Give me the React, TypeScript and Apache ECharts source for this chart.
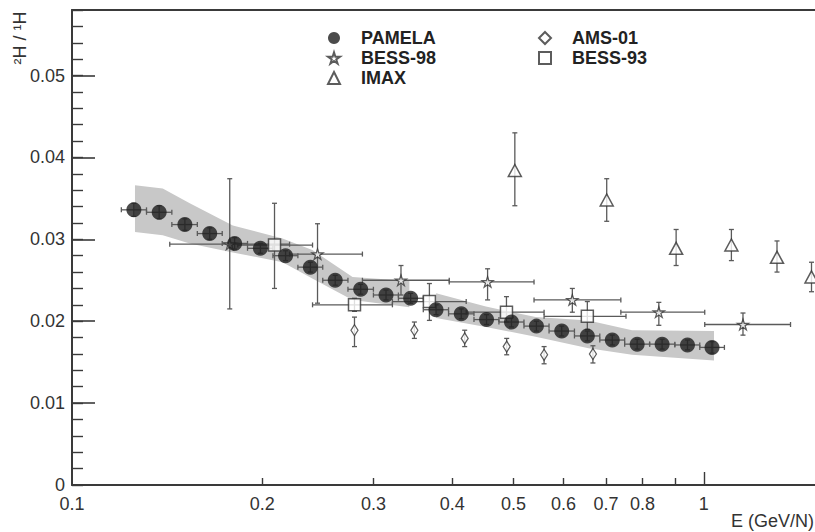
import React, { useEffect, useRef } from "react";
import * as echarts from "echarts";

// ---------- data ----------
const xTickLabels = [0.1, 0.2, 0.3, 0.4, 0.5, 0.6, 0.7, 0.8, 1];
const xMinorTicks = [0.2, 0.3, 0.4, 0.5, 0.6, 0.7, 0.8, 0.9];
const xMajorTicks = [1];
const yTickLabels = [0, 0.01, 0.02, 0.03, 0.04, 0.05];

const pamelaE = [0.1253, 0.1374, 0.1509, 0.1652, 0.1809, 0.1987, 0.2178, 0.2384, 0.261, 0.2864, 0.3141, 0.3436, 0.3769, 0.4132, 0.4531, 0.4962, 0.5434, 0.5959, 0.6542, 0.7165, 0.7845, 0.8592, 0.9424, 1.0306];
const pamelaRatio = [0.0336, 0.0333, 0.0318, 0.0307, 0.0295, 0.0289, 0.028, 0.0266, 0.025, 0.0239, 0.0232, 0.0228, 0.0214, 0.0209, 0.0202, 0.0199, 0.0194, 0.0188, 0.0182, 0.0177, 0.0172, 0.0172, 0.0171, 0.0168];
const pamelaErr = [0.0008, 0.0008, 0.0007, 0.0007, 0.0007, 0.0006, 0.0006, 0.0006, 0.0006, 0.0006, 0.0006, 0.0006, 0.0006, 0.0006, 0.0006, 0.0006, 0.0006, 0.0006, 0.0006, 0.0006, 0.0006, 0.0006, 0.0006, 0.0007];
const pamelaEdges = [0.1197, 0.1312, 0.1439, 0.1579, 0.1729, 0.1896, 0.208, 0.2278, 0.2494, 0.2734, 0.3, 0.3286, 0.3598, 0.3945, 0.4328, 0.474, 0.5193, 0.569, 0.6242, 0.6846, 0.7496, 0.8209, 0.9, 0.9856, 1.0782];

const band1E = [0.1258, 0.1392, 0.1536, 0.1797, 0.2154, 0.2401, 0.278, 0.342];
const band1Hi = [0.0366, 0.0362, 0.0344, 0.0317, 0.0301, 0.0287, 0.0254, 0.0249];
const band1Lo = [0.0309, 0.0305, 0.0295, 0.0284, 0.0272, 0.0252, 0.0226, 0.0217];
const band2E = [0.377, 0.452, 0.5418, 0.6571, 0.77, 1.038];
const band2Hi = [0.0234, 0.0218, 0.0205, 0.0201, 0.0189, 0.0188];
const band2Lo = [0.0204, 0.0193, 0.0181, 0.0167, 0.0159, 0.0152];

const bess98E = [0.1777, 0.2447, 0.3317, 0.4548, 0.6194, 0.849, 1.1537];
const bess98Ratio = [0.0294, 0.0282, 0.025, 0.0248, 0.0226, 0.0211, 0.0196];
const bess98Lo = [0.0215, 0.0222, 0.0232, 0.0226, 0.0211, 0.0195, 0.0183];
const bess98Hi = [0.0374, 0.0319, 0.0268, 0.0264, 0.024, 0.0223, 0.021];
const bess98Edges = [0.1428, 0.221, 0.2882, 0.3955, 0.5387, 0.7392, 1.0036, 1.372];

const bess93E = [0.2092, 0.28, 0.3679, 0.4872, 0.6542];
const bess93Ratio = [0.0293, 0.022, 0.0224, 0.0211, 0.0206];
const bess93Lo = [0.024, 0.0212, 0.0201, 0.0199, 0.019];
const bess93Hi = [0.0344, 0.0228, 0.0246, 0.023, 0.0224];
const bess93Edges = [0.183, 0.2403, 0.3215, 0.4207, 0.5588, 0.7532];

const amsE = [0.28, 0.3483, 0.4184, 0.4876, 0.5588, 0.6677];
const amsRatio = [0.0189, 0.0189, 0.0179, 0.0169, 0.0159, 0.016];
const amsLo = [0.0169, 0.0179, 0.0169, 0.0159, 0.0148, 0.0149];
const amsHi = [0.0205, 0.0199, 0.0189, 0.0179, 0.0169, 0.017];

const imaxE = [0.5023, 0.7021, 0.9042, 1.106, 1.306, 1.481];
const imaxRatio = [0.0384, 0.0348, 0.0289, 0.0293, 0.0278, 0.0254];
const imaxLo = [0.0341, 0.0322, 0.0268, 0.0274, 0.026, 0.0236];
const imaxHi = [0.043, 0.0374, 0.0312, 0.0312, 0.0298, 0.0272];

// ---------- helpers ----------
const FONT = '"Liberation Sans", Arial, Helvetica, sans-serif';
const AX = "#3a3a3a";
const ERR = "#5a5a5a";
const STAR = "path://M50,0 L61,35 L98,35 L68,57 L79,91 L50,70 L21,91 L32,57 L2,35 L39,35 Z";

const bands = [
  { e: band1E, hi: band1Hi, lo: band1Lo },
  { e: band2E, hi: band2Hi, lo: band2Lo },
];

function errRender(params: any, api: any) {
  const x = api.value(0);
  const y = api.value(1);
  const ylo = api.value(2);
  const yhi = api.value(3);
  const xlo = api.value(4);
  const xhi = api.value(5);
  const style = { stroke: ERR, lineWidth: 1.3 };
  const cap = 2.5;
  const children: any[] = [];
  if (yhi > ylo) {
    const lo = api.coord([x, ylo]);
    const hi = api.coord([x, yhi]);
    children.push({ type: "line", shape: { x1: lo[0], y1: lo[1], x2: hi[0], y2: hi[1] }, style });
    children.push({ type: "line", shape: { x1: lo[0] - cap, y1: lo[1], x2: lo[0] + cap, y2: lo[1] }, style });
    children.push({ type: "line", shape: { x1: hi[0] - cap, y1: hi[1], x2: hi[0] + cap, y2: hi[1] }, style });
  }
  if (xhi > xlo) {
    const l = api.coord([xlo, y]);
    const r = api.coord([xhi, y]);
    children.push({ type: "line", shape: { x1: l[0], y1: l[1], x2: r[0], y2: r[1] }, style });
    children.push({ type: "line", shape: { x1: l[0], y1: l[1] - cap, x2: l[0], y2: l[1] + cap }, style });
    children.push({ type: "line", shape: { x1: r[0], y1: r[1] - cap, x2: r[0], y2: r[1] + cap }, style });
  }
  return { type: "group", children };
}

function bandRender(params: any, api: any) {
  const b = bands[api.value(2)];
  const pts: number[][] = [];
  for (let i = 0; i < b.e.length; i++) pts.push(api.coord([b.e[i], b.hi[i]]));
  for (let i = b.e.length - 1; i >= 0; i--) pts.push(api.coord([b.e[i], b.lo[i]]));
  return { type: "polygon", shape: { points: pts }, style: { fill: "#c8c8c8" } };
}

function errData(e: number[], v: number[], lo: number[], hi: number[], edges: number[] | null) {
  return e.map((x, i) => [x, v[i], lo[i], hi[i], edges ? edges[i] : x, edges ? edges[i + 1] : x]);
}

function errSeries(name: string, data: any[]) {
  return {
    name: name + "-err",
    type: "custom",
    renderItem: errRender,
    data,
    encode: { x: 0, y: 1 },
    z: 3,
    silent: true,
  };
}

const hollow = (w = 1.4) => ({ color: "#ffffff", borderColor: "#333333", borderWidth: w });

const legendBase = {
  top: 24,
  orient: "vertical",
  itemGap: 2,
  itemWidth: 12,
  itemHeight: 12,
  symbolKeepAspect: true,
  textStyle: { fontSize: 18, fontWeight: "bold", fontFamily: FONT, color: "#222", padding: [0, 0, 0, 16] },
  selectedMode: false,
};

export default function App() {
  const ref = useRef<HTMLDivElement>(null);
  useEffect(() => {
    if (!ref.current) return;
    const chart = echarts.init(ref.current, null, { renderer: "svg" });
    const xCommon = { type: "log", logBase: 10, min: 0.1, max: 1.5, gridIndex: 0, splitLine: { show: false }, minorTick: { show: false }, minorSplitLine: { show: false } };
    const option: any = {
      animation: false,
      backgroundColor: "#ffffff",
      grid: { left: 72, top: 10, right: -2, bottom: 47, show: false },
      xAxis: [
        {
          ...xCommon,
          position: "bottom",
          axisLine: { show: true, lineStyle: { color: AX, width: 2 } },
          axisTick: { show: true, inside: true, length: 13, customValues: xMajorTicks, lineStyle: { color: AX, width: 1.4 } },
          axisLabel: {
            show: true,
            customValues: xTickLabels,
            margin: 10,
            fontSize: 18,
            fontFamily: FONT,
            color: "#333",
            formatter: (v: number) => (v >= 0.99 ? String(Math.round(v)) : v.toFixed(1)),
          },
        },
        {
          ...xCommon,
          position: "bottom",
          axisLine: { show: false },
          axisTick: { show: true, inside: true, length: 7, customValues: xMinorTicks, lineStyle: { color: AX, width: 1.4 } },
          axisLabel: { show: false },
        },
        {
          ...xCommon,
          position: "top",
          axisLine: { show: true, lineStyle: { color: AX, width: 2 } },
          axisTick: { show: false },
          axisLabel: { show: false },
        },
      ],
      yAxis: [
        {
          type: "value",
          min: 0,
          max: 0.058,
          interval: 0.01,
          splitLine: { show: false },
          axisLine: { show: true, lineStyle: { color: AX, width: 2 } },
          axisTick: { show: true, inside: true, length: 23, customValues: yTickLabels, lineStyle: { color: AX, width: 1.6 } },
          axisLabel: {
            show: true,
            customValues: yTickLabels,
            margin: 7,
            fontSize: 18,
            fontFamily: FONT,
            color: "#333",
            formatter: (v: number) => (v === 0 ? "0" : v.toFixed(2)),
          },
        },
        {
          type: "value",
          min: 0,
          max: 0.058,
          interval: 0.002,
          position: "left",
          splitLine: { show: false },
          axisLine: { show: false },
          axisTick: { show: true, inside: true, length: 11, lineStyle: { color: AX, width: 1.4 } },
          axisLabel: { show: false },
        },
      ],
      legend: [
        { ...legendBase, left: 322, data: ["PAMELA", "BESS-98", "IMAX"] },
        { ...legendBase, left: 533, data: ["AMS-01", "BESS-93"] },
      ],
      graphic: [
        {
          type: "text",
          x: 20,
          y: 38,
          rotation: Math.PI / 2,
          style: { text: "²H / ¹H", font: `18px ${FONT}`, fill: "#333", align: "center", verticalAlign: "middle" },
        },
        {
          type: "text",
          x: 731,
          y: 521,
          style: { text: "E (GeV/N)", font: `18px ${FONT}`, fill: "#333", align: "left", verticalAlign: "middle" },
        },
      ],
      series: [
        {
          name: "band",
          type: "custom",
          renderItem: bandRender,
          data: bands.map((b, i) => [b.e[0], b.lo[0], i]),
          encode: { x: 0, y: 1 },
          z: 1,
          silent: true,
        },
        errSeries("PAMELA", errData(pamelaE, pamelaRatio, pamelaRatio.map((v, i) => v - pamelaErr[i]), pamelaRatio.map((v, i) => v + pamelaErr[i]), pamelaEdges)),
        errSeries("BESS-98", errData(bess98E, bess98Ratio, bess98Lo, bess98Hi, bess98Edges)),
        errSeries("BESS-93", errData(bess93E, bess93Ratio, bess93Lo, bess93Hi, bess93Edges)),
        errSeries("AMS-01", errData(amsE, amsRatio, amsLo, amsHi, null)),
        errSeries("IMAX", errData(imaxE, imaxRatio, imaxLo, imaxHi, null)),
        {
          name: "BESS-98",
          type: "scatter",
          symbol: STAR,
          symbolSize: 11,
          symbolKeepAspect: true,
          itemStyle: hollow(1.3),
          data: bess98E.map((x, i) => [x, bess98Ratio[i]]),
          z: 4,
        },
        {
          name: "BESS-93",
          type: "scatter",
          symbol: "rect",
          symbolSize: 12,
          itemStyle: hollow(1.5),
          data: bess93E.map((x, i) => [x, bess93Ratio[i]]),
          z: 4,
        },
        {
          name: "AMS-01",
          type: "scatter",
          symbol: "diamond",
          symbolSize: [7, 11],
          itemStyle: hollow(1.3),
          data: amsE.map((x, i) => [x, amsRatio[i]]),
          z: 4,
        },
        {
          name: "IMAX",
          type: "scatter",
          symbol: "triangle",
          symbolSize: [13, 12],
          itemStyle: hollow(1.5),
          data: imaxE.map((x, i) => [x, imaxRatio[i]]),
          z: 4,
        },
        {
          name: "PAMELA",
          type: "scatter",
          symbol: "circle",
          symbolSize: 15,
          itemStyle: { color: "#1e1e1e", borderColor: "#1e1e1e", borderWidth: 0 },
          data: pamelaE.map((x, i) => [x, pamelaRatio[i]]),
          z: 5,
        },
      ],
    };
    chart.setOption(option);
    return () => chart.dispose();
  }, []);
  return <div ref={ref} style={{ position: "absolute", left: 0, top: 0, width: 815, height: 532, background: "#fff" }} />;
}
